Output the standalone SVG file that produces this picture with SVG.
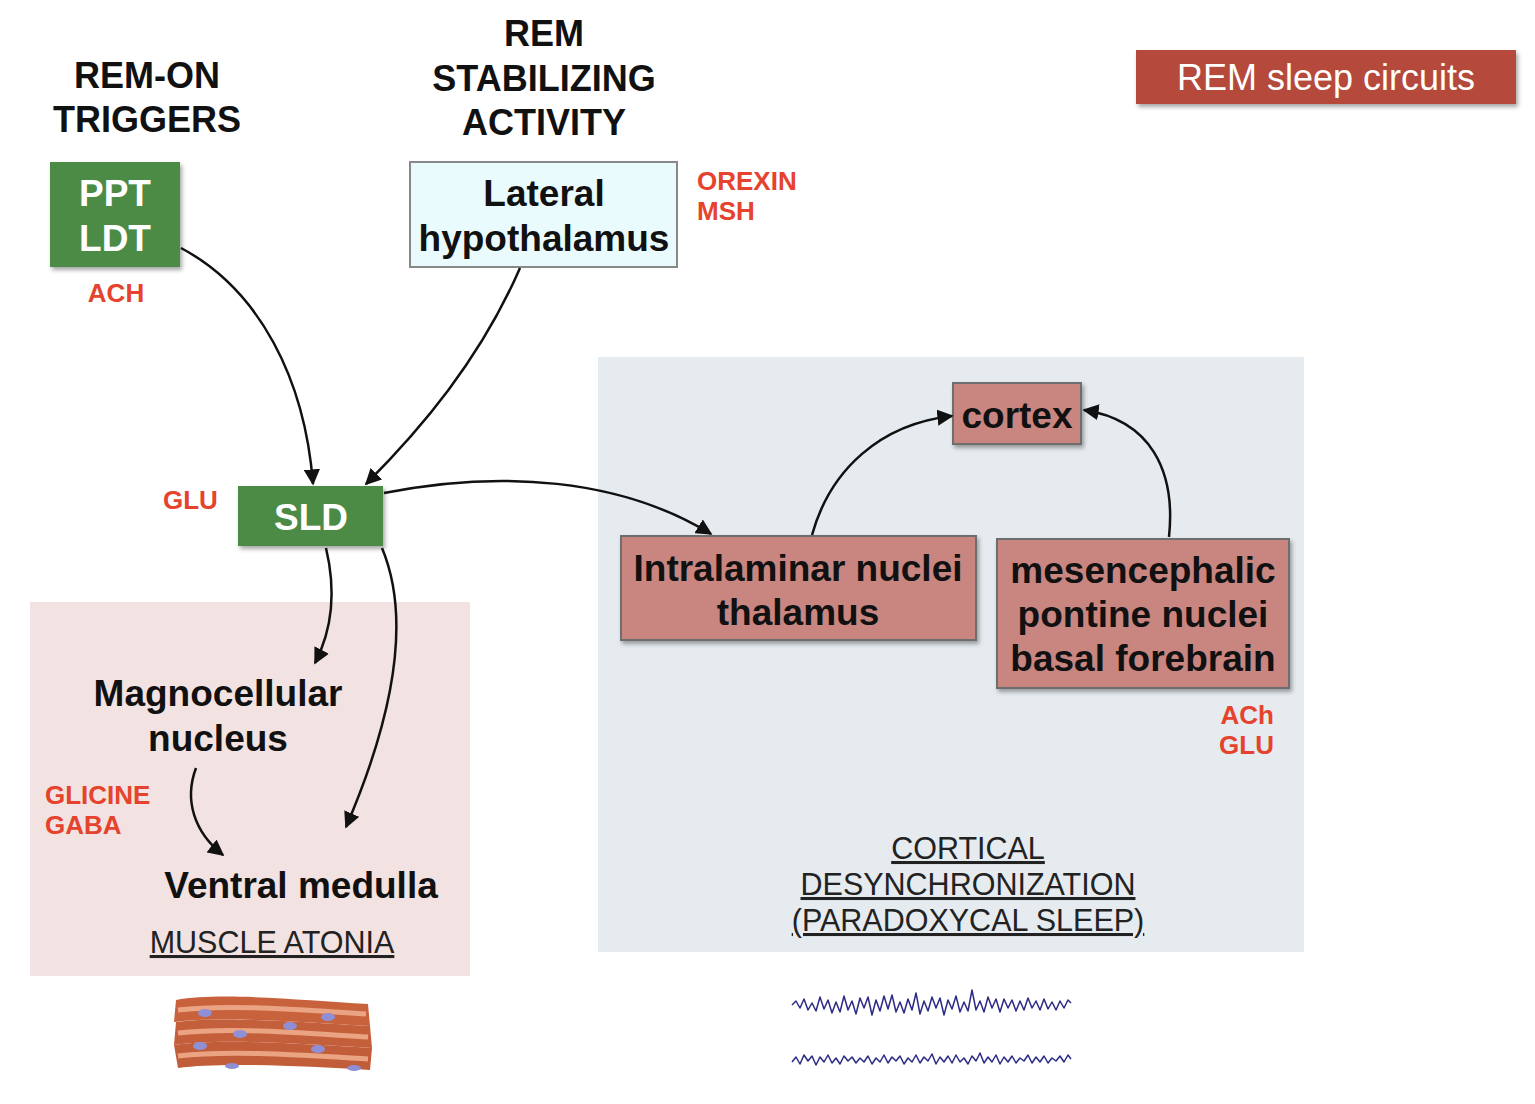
<svg xmlns="http://www.w3.org/2000/svg" width="1535" height="1104" viewBox="0 0 1535 1104">
<defs>
<style>
.h{font-family:"Liberation Sans",Arial,sans-serif;font-weight:bold;fill:#111;text-anchor:middle}
.t{font-family:"Liberation Sans",Arial,sans-serif;font-weight:bold;fill:#111;text-anchor:middle;font-size:37px}
.w{font-family:"Liberation Sans",Arial,sans-serif;font-weight:bold;fill:#fff;text-anchor:middle;font-size:37px}
.r{font-family:"Liberation Sans",Arial,sans-serif;font-weight:bold;fill:#e5432d;font-size:26px}
.u{font-family:"Liberation Sans",Arial,sans-serif;fill:#222;text-anchor:middle;font-size:30.5px;text-decoration:underline}
.green{fill:#4c8b45}
.pink{fill:#c98580;stroke:#6e6e6e;stroke-width:2}
.edge{fill:none;stroke:#111;stroke-width:2.5}
</style>
<filter id="sh" x="-10%" y="-10%" width="125%" height="130%">
<feDropShadow dx="2" dy="3" stdDeviation="2" flood-color="#000" flood-opacity="0.35"/>
</filter>
<marker id="ah" viewBox="0 0 10 10" refX="9" refY="5" markerWidth="6.5" markerHeight="6.5" orient="auto" markerUnits="strokeWidth">
<path d="M0,0 L10,5 L0,10 Z" fill="#111"/>
</marker>
</defs>
<rect width="1535" height="1104" fill="#fff"/>

<g id="panel-muscle">
<rect x="30" y="602" width="440" height="374" fill="#f2e2e1"/>
</g>
<g id="panel-cortical">
<rect x="598" y="357" width="706" height="595" fill="#e5ebef"/>
</g>

<g id="title">
<rect x="1136" y="50" width="380" height="54" fill="#b5493b" filter="url(#sh)"/>
<text x="1326" y="90" font-family="Liberation Sans,Arial,sans-serif" font-size="36" fill="#fff" text-anchor="middle">REM sleep circuits</text>
</g>

<g id="heading-remon">
<text class="h" font-size="36" x="147" y="88">REM-ON</text>
<text class="h" font-size="36" x="147" y="132">TRIGGERS</text>
</g>
<g id="heading-stabilizing">
<text class="h" font-size="36" x="544" y="46">REM</text>
<text class="h" font-size="36" x="544" y="91">STABILIZING</text>
<text class="h" font-size="36" x="544" y="135">ACTIVITY</text>
</g>

<g id="node-ppt">
<rect class="green" x="50" y="162" width="130" height="105" filter="url(#sh)"/>
<text class="w" x="115" y="206">PPT</text>
<text class="w" x="115" y="251">LDT</text>
<text class="r" x="116" y="302" text-anchor="middle">ACH</text>
</g>

<g id="node-lh">
<rect x="410" y="162" width="267" height="105" fill="#e9fbfd" stroke="#888" stroke-width="2"/>
<text class="t" x="544" y="206">Lateral</text>
<text class="t" x="544" y="251">hypothalamus</text>
<text class="r" x="697" y="190">OREXIN</text>
<text class="r" x="697" y="220">MSH</text>
</g>

<g id="node-sld">
<rect class="green" x="238" y="486" width="145" height="60" filter="url(#sh)"/>
<text class="w" x="311" y="530">SLD</text>
<text class="r" x="163" y="509">GLU</text>
</g>

<g id="node-magno">
<text class="t" x="218" y="706">Magnocellular</text>
<text class="t" x="218" y="751">nucleus</text>
<text class="r" x="45" y="804">GLICINE</text>
<text class="r" x="45" y="834">GABA</text>
</g>

<g id="node-ventral">
<text class="t" x="301" y="898">Ventral medulla</text>
<text class="u" x="272" y="953">MUSCLE ATONIA</text>
</g>

<g id="node-cortex">
<rect class="pink" x="953" y="383" width="128" height="61" filter="url(#sh)"/>
<text class="t" x="1017" y="428">cortex</text>
</g>

<g id="node-intralaminar">
<rect class="pink" x="621" y="536" width="355" height="104" filter="url(#sh)"/>
<text class="t" x="798" y="581">Intralaminar nuclei</text>
<text class="t" x="798" y="625">thalamus</text>
</g>

<g id="node-mesencephalic">
<rect class="pink" x="997" y="539" width="292" height="149" filter="url(#sh)"/>
<text class="t" x="1143" y="583">mesencephalic</text>
<text class="t" x="1143" y="627">pontine nuclei</text>
<text class="t" x="1143" y="671">basal forebrain</text>
<text class="r" x="1274" y="724" text-anchor="end">ACh</text>
<text class="r" x="1274" y="754" text-anchor="end">GLU</text>
</g>

<g id="label-cortical">
<text class="u" x="968" y="859">CORTICAL</text>
<text class="u" x="968" y="895">DESYNCHRONIZATION</text>
<text class="u" x="968" y="931">(PARADOXYCAL SLEEP)</text>
</g>

<g id="connectors">
<path class="edge" marker-end="url(#ah)" d="M181,248 C260,290 305,380 313,484"/>
<path class="edge" marker-end="url(#ah)" d="M520,268 C480,360 420,430 366,484"/>
<path class="edge" marker-end="url(#ah)" d="M384,493 C500,470 620,478 711,534"/>
<path class="edge" marker-end="url(#ah)" d="M326,548 C336,590 332,630 315,663"/>
<path class="edge" marker-end="url(#ah)" d="M382,548 C412,620 392,720 346,827"/>
<path class="edge" marker-end="url(#ah)" d="M196,768 C184,800 194,832 223,855"/>
<path class="edge" marker-end="url(#ah)" d="M812,535 C830,470 880,424 952,416"/>
<path class="edge" marker-end="url(#ah)" d="M1169,537 C1176,470 1150,420 1084,410"/>
</g>

<g id="muscle">
<path d="M176,1000 C220,992 300,1000 368,1004 L370,1026 C300,1022 220,1016 174,1022 Z" fill="#c7623d"/>
<path d="M176,1022 C220,1016 300,1022 370,1026 L372,1048 C300,1044 220,1038 174,1045 Z" fill="#c45f3b"/>
<path d="M174,1045 C220,1038 300,1044 372,1048 L370,1070 C300,1066 220,1062 178,1068 Z" fill="#c25d39"/>
<path d="M178,1010 C230,1004 300,1010 366,1014" stroke="#eaa383" stroke-width="5" fill="none"/>
<path d="M178,1033 C230,1027 300,1033 368,1037" stroke="#eaa383" stroke-width="5" fill="none"/>
<path d="M178,1056 C230,1050 300,1055 368,1059" stroke="#eaa383" stroke-width="5" fill="none"/>
<g fill="#8f8fd6">
<ellipse cx="205" cy="1013" rx="7" ry="4"/>
<ellipse cx="328" cy="1017" rx="7" ry="4"/>
<ellipse cx="290" cy="1026" rx="7" ry="4"/>
<ellipse cx="240" cy="1034" rx="7" ry="4"/>
<ellipse cx="200" cy="1046" rx="7" ry="4"/>
<ellipse cx="318" cy="1049" rx="7" ry="4"/>
<ellipse cx="232" cy="1066" rx="7" ry="3"/>
<ellipse cx="354" cy="1068" rx="7" ry="3"/>
</g>
</g>

<g id="eeg" fill="none" stroke="#2b2b86" stroke-width="1.5" stroke-linejoin="round">
<polyline points="792,1005 796,1001 800,1008 804,999 808,1010 812,1003 816,1011 820,997 824,1009 828,1000 832,1013 836,1002 840,1012 844,996 848,1010 852,1001 856,1014 860,998 864,1008 868,997 872,1015 876,1000 880,1011 884,996 888,1009 892,995 896,1012 900,1002 904,1013 908,999 912,1010 916,993 920,1014 924,1001 928,1011 932,997 936,1008 940,998 944,1015 948,1000 952,1009 956,996 960,1012 964,1002 968,1011 972,990 976,1010 980,1001 984,1012 988,997 992,1008 996,999 1000,1012 1004,999 1008,1008 1012,1000 1016,1011 1020,1001 1024,1010 1028,998 1032,1008 1036,1001 1040,1010 1044,999 1048,1009 1052,1002 1056,1010 1060,1001 1064,1008 1068,1000 1071,1003"/>
<polyline points="792,1062 796,1057 800,1064 804,1055 808,1061 812,1056 816,1065 820,1057 824,1062 828,1055 832,1063 836,1058 840,1064 844,1056 848,1061 852,1057 856,1063 860,1058 864,1062 868,1056 872,1064 876,1058 880,1062 884,1055 888,1063 892,1057 896,1061 900,1056 904,1064 908,1058 912,1062 916,1055 920,1063 924,1057 928,1061 932,1054 936,1064 940,1057 944,1062 948,1056 952,1063 956,1055 960,1062 964,1058 968,1064 972,1056 976,1061 980,1053 984,1063 988,1057 992,1062 996,1055 1000,1064 1004,1057 1008,1062 1012,1056 1016,1063 1020,1058 1024,1061 1028,1055 1032,1063 1036,1057 1040,1062 1044,1056 1048,1063 1052,1058 1056,1061 1060,1056 1064,1062 1068,1055 1071,1059"/>
</g>
</svg>
